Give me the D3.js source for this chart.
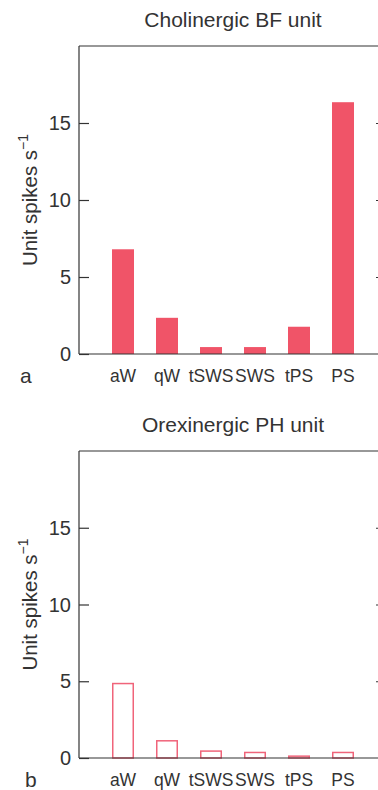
<!DOCTYPE html>
<html>
<head>
<meta charset="utf-8">
<script src="https://cdn.jsdelivr.net/npm/d3@7"></script>
<style>
  body { margin: 0; background: #fff; }
  svg { display: block; font-family: "Liberation Sans", Arial, sans-serif; }
</style>
</head>
<body>
<svg id="chart" width="378" height="790"></svg>
<script>
// data
const states = ["aW", "qW", "tSWS", "SWS", "tPS", "PS"];
const cholinergicBF = [6.8, 2.35, 0.45, 0.45, 1.77, 16.35];
const orexinergicPH = [4.85, 1.12, 0.45, 0.36, 0.12, 0.36];
const yTicks = [0, 5, 10, 15];

const svg = d3.select("#chart");
const ink = "#333";
const red = "#f05468";

// one panel per unit; filled bars for panel a, open bars for panel b
function drawPanel(opts) {
    const g = svg.append("g");
    const left = 79, right = 380;

    const x = d3.scaleBand()
        .domain(states)
        .range([101, 365])
        .paddingInner(0.5)
        .paddingOuter(0.25);

    const y = d3.scaleLinear()
        .domain([0, 20])
        .range([opts.bottom, opts.top]);

    // title
    g.append("text")
        .attr("x", 233).attr("y", opts.top - 19)
        .attr("text-anchor", "middle")
        .attr("font-size", 21)
        .attr("fill", ink)
        .text(opts.title);

    // frame: top line, left axis, right axis (off-screen), bottom axis
    g.append("line")
        .attr("x1", left).attr("x2", right)
        .attr("y1", opts.top).attr("y2", opts.top)
        .attr("stroke", ink).attr("stroke-width", 1.2);

    const leftAxis = g.append("g")
        .attr("transform", `translate(${left},0)`)
        .call(d3.axisRight(y).tickValues(yTicks).tickSize(10).tickFormat(""));
    leftAxis.select(".domain").remove();
    leftAxis.append("line")
        .attr("y1", opts.top).attr("y2", opts.bottom)
        .attr("stroke", ink).attr("stroke-width", 1.2);
    leftAxis.selectAll(".tick line").attr("stroke", ink).attr("stroke-width", 1.2);

    g.selectAll(".ylab")
        .data(yTicks)
        .join("text")
        .attr("x", left - 8)
        .attr("y", d => y(d))
        .attr("dy", "0.36em")
        .attr("text-anchor", "end")
        .attr("font-size", 20)
        .attr("fill", ink)
        .text(d => d);

    const rightAxis = g.append("g")
        .attr("transform", `translate(${right},0)`)
        .call(d3.axisLeft(y).tickValues(yTicks.slice(1)).tickSize(4).tickFormat(""));
    rightAxis.select(".domain").remove();
    rightAxis.selectAll(".tick line").attr("stroke", ink).attr("stroke-width", 1.2);

    // bars
    const bw = x.bandwidth();
    if (opts.filled) {
        g.selectAll(".bar")
            .data(opts.values)
            .join("rect")
            .attr("x", (d, i) => x(states[i]))
            .attr("y", d => y(d))
            .attr("width", bw)
            .attr("height", d => y(0) - y(d))
            .attr("fill", red);
    } else {
        g.selectAll(".bar")
            .data(opts.values)
            .join("rect")
            .attr("x", (d, i) => x(states[i]) + 0.75)
            .attr("y", d => y(d))
            .attr("width", bw - 1.5)
            .attr("height", d => y(0) - y(d))
            .attr("fill", "none")
            .attr("stroke", "#f0647a")
            .attr("stroke-width", 1.5);
    }

    const bottomAxis = g.append("g")
        .attr("transform", `translate(0,${opts.bottom})`)
        .call(d3.axisBottom(x).tickSize(0).tickPadding(0));
    bottomAxis.select(".domain").remove();
    bottomAxis.append("line")
        .attr("x1", left).attr("x2", right)
        .attr("stroke", ink).attr("stroke-width", 1.2);
    bottomAxis.selectAll(".tick text")
        .attr("y", 28).attr("dy", 0)
        .attr("font-size", 17.5)
        .attr("font-family", "Liberation Sans, Arial, sans-serif")
        .attr("fill", ink);

    // y axis title
    const mid = (opts.top + opts.bottom) / 2;
    const ylab = g.append("text")
        .attr("transform", `translate(37,${mid}) rotate(-90)`)
        .attr("text-anchor", "middle")
        .attr("font-size", 20.5)
        .attr("fill", ink);
    ylab.append("tspan").text("Unit spikes s");
    ylab.append("tspan").attr("font-size", 14).attr("dy", -9).text("\u22121");

    // panel letter
    g.append("text")
        .attr("x", opts.letterX).attr("y", opts.bottom + 29)
        .attr("font-size", 21)
        .attr("fill", ink)
        .text(opts.letter);
}

drawPanel({ title: "Cholinergic BF unit", values: cholinergicBF, top: 46, bottom: 354, filled: true, letter: "a", letterX: 20 });
drawPanel({ title: "Orexinergic PH unit", values: orexinergicPH, top: 451, bottom: 758, filled: false, letter: "b", letterX: 25 });
</script>
</body>
</html>
